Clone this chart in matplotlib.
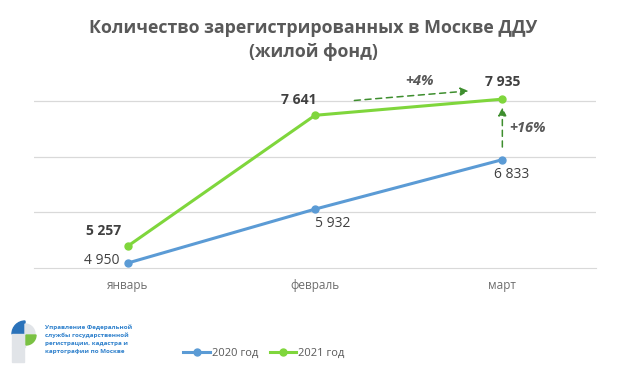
import numpy as np
import matplotlib.pyplot as plt
from matplotlib.patches import Wedge, Rectangle

months = ["январь", "февраль", "март"]
vals_2020 = [4950, 5932, 6833]
vals_2021 = [5257, 7641, 7935]
series_names = ["2020 год", "2021 год"]
title = "Количество зарегистрированных в Москве ДДУ\n(жилой фонд)"
org_text = "Управление Федеральной\nслужбы государственной\nрегистрации, кадастра и\nкартографии по Москве"

BLUE = "#5B9BD5"
GREEN = "#7FD63C"
DARKGREEN = "#3E8E2E"
GRAY = "#595959"

plt.rcParams['font.family'] = ['Open Sans', 'DejaVu Sans']

W, H = 627, 377
fig = plt.figure(figsize=(W / 100, H / 100), dpi=100)

def box(x0, y0, x1, y1):
    # pixel box (top-left origin) -> figure fraction rect
    return [x0 / W, 1 - y1 / H, (x1 - x0) / W, (y1 - y0) / H]

ax = fig.add_axes(box(34, 75, 596, 268))
x = np.arange(len(months))

for yv in np.arange(4860 + 1013, 8000, 1013):
    ax.axhline(yv, color="#D9D9D9", lw=0.9, zorder=0)

ax.plot(x, vals_2020, color=BLUE, lw=2.2, marker="o", ms=5, label=series_names[0], zorder=3)
ax.plot(x, vals_2021, color=GREEN, lw=2.2, marker="o", ms=5, label=series_names[1], zorder=3)

ax.set_xlim(-0.5, 2.5)
ax.set_ylim(4860, 8375)
ax.set_yticks([])
ax.set_xticks(x)
ax.set_xticklabels(months, color="#6E6E6E", fontsize=8.5)
ax.tick_params(axis="x", length=0, pad=8)
for s in ["top", "right", "left"]:
    ax.spines[s].set_visible(False)
ax.spines["bottom"].set_color("#D9D9D9")

def fmt(v):
    return f"{v:,}".replace(",", " ")

# data labels
lab_kw = dict(fontsize=10, color="#404040")
ax.annotate(fmt(vals_2020[0]), (x[0], vals_2020[0]), xytext=(-6, 2), textcoords="offset points",
            ha="right", va="center", **lab_kw)
ax.annotate(fmt(vals_2020[1]), (x[1], vals_2020[1]), xytext=(13, -10), textcoords="offset points",
            ha="center", va="center", **lab_kw)
ax.annotate(fmt(vals_2020[2]), (x[2], vals_2020[2]), xytext=(7, -11), textcoords="offset points",
            ha="center", va="center", **lab_kw)
ax.annotate(fmt(vals_2021[0]), (x[0], vals_2021[0]), xytext=(-17, 11), textcoords="offset points",
            ha="center", va="center", fontweight="bold", **lab_kw)
ax.annotate(fmt(vals_2021[1]), (x[1], vals_2021[1]), xytext=(-12, 11), textcoords="offset points",
            ha="center", va="center", fontweight="bold", **lab_kw)
ax.annotate(fmt(vals_2021[2]), (x[2], vals_2021[2]), xytext=(0, 12), textcoords="offset points",
            ha="center", va="center", fontweight="bold", **lab_kw)

# growth arrows
arrow = dict(arrowstyle="-|>", color=DARKGREEN, lw=1.1, linestyle=(0, (4, 3)), mutation_scale=12,
             shrinkA=0, shrinkB=0)
ax.annotate("", xy=(1.82, vals_2021[2] + 150), xytext=(1.21, vals_2021[1] + 270), arrowprops=arrow)
ax.text(1.56, vals_2021[2] + 330, "+4%", ha="center", va="center", fontsize=10.5,
        fontweight="bold", fontstyle="italic", color=GRAY)
ax.annotate("", xy=(x[2], vals_2021[2] - 150), xytext=(x[2], vals_2020[2] + 230), arrowprops=arrow)
ax.text(2.035, (vals_2021[2] + vals_2020[2]) / 2 + 20, "+16%", ha="left", va="center", fontsize=10.5,
        fontweight="bold", fontstyle="italic", color=GRAY)

fig.text(313 / W, 1 - 40 / H, title, ha="center", va="center", fontsize=12.8,
         fontweight="bold", color=GRAY, linespacing=1.4)

h, l = ax.get_legend_handles_labels()
fig.legend(h, l, loc="center", bbox_to_anchor=(264 / W, 1 - 353 / H), ncol=2, frameon=False,
           fontsize=8, handlelength=2.4, handletextpad=0.2, columnspacing=1.0, labelcolor=GRAY)

# logo (pixel-like units, y up)
lax = fig.add_axes(box(8, 318, 40, 368))
lax.set_xlim(0, 32)
lax.set_ylim(0, 50)
lax.axis("off")
LG = "#E1E4E8"
lax.add_patch(Wedge((17, 34), 13, 90, 180, color="#2A72BA"))
lax.add_patch(Wedge((17, 34), 10, 0, 90, color=LG))
lax.add_patch(Rectangle((4, 21), 13, 13, color=LG))
lax.add_patch(Wedge((18, 33), 10, 270, 360, color="#7AC143"))
lax.add_patch(Rectangle((4, 6), 12, 15, color=LG))
fig.text(45 / W, 1 - 339 / H, org_text, ha="left", va="center", fontsize=4.5,
         fontweight="bold", color="#2E80CC", linespacing=1.65)

fig.savefig("out.png", dpi=100)
